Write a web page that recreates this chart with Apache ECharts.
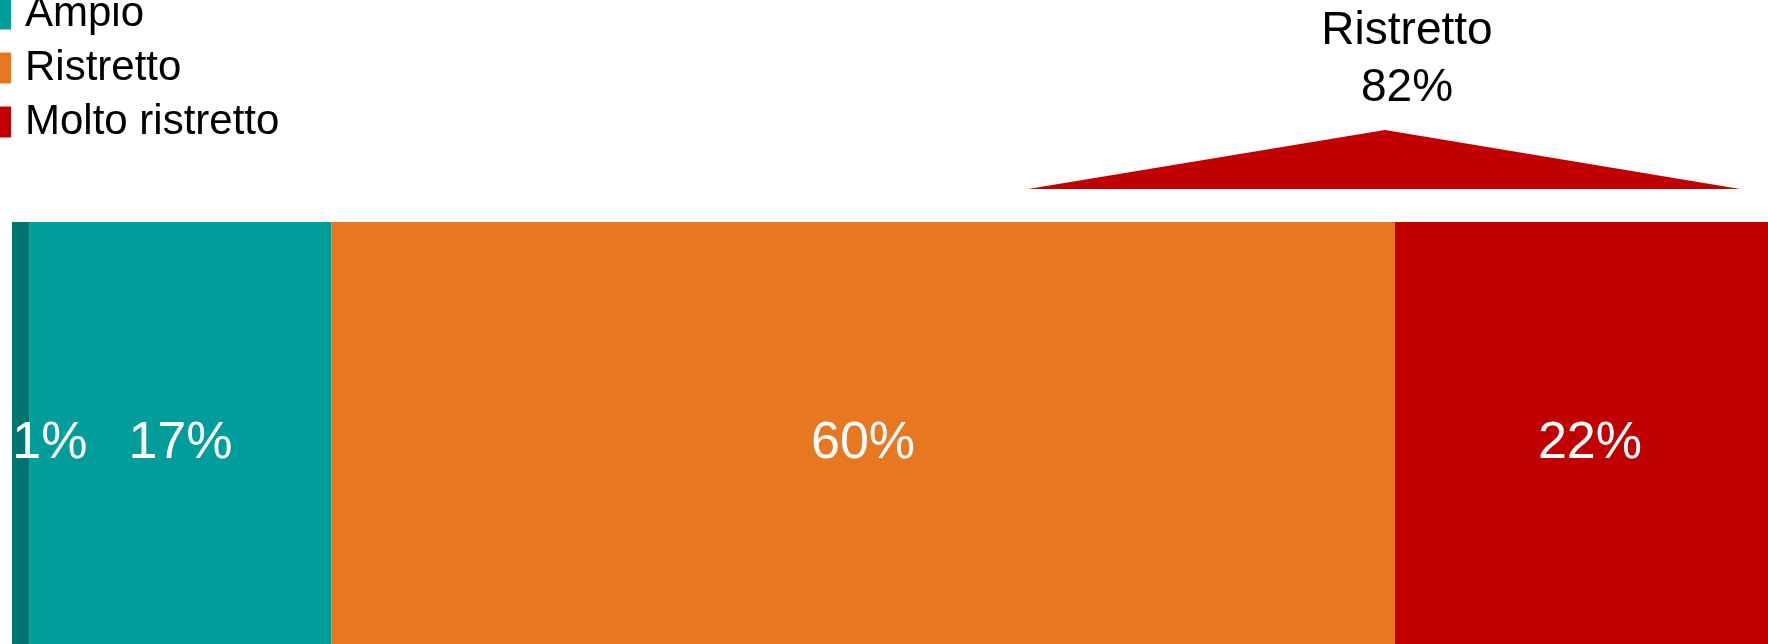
<!DOCTYPE html>
<html>
<head>
<meta charset="utf-8">
<script src="https://cdn.jsdelivr.net/npm/echarts@6/dist/echarts.min.js"></script>
<style>html,body{margin:0;padding:0;background:#fff;overflow:hidden;width:1768px;height:644px;}#c{width:1790px;height:670px;}</style>
</head>
<body>
<div id="c"></div>
<script>
const categories = ['Totale'];
const seriesNames = ['Molto ampio', 'Ampio', 'Ristretto', 'Molto ristretto'];
const moltoAmpio = [1];
const ampio = [17];
const ristretto = [60];
const moltoRistretto = [22];
const annotationLabel = 'Ristretto';

const colors = ['#00746F', '#009D9A', '#E87722', '#C00000'];
const FONT = '"Liberation Sans", Arial, sans-serif';
const values = [moltoAmpio, ampio, ristretto, moltoRistretto];
const ristrettoTotal = ristretto[0] + moltoRistretto[0];

const chart = echarts.init(document.getElementById('c'), null, {renderer: 'canvas'});
const series = seriesNames.map((name, i) => ({
  name: name,
  type: 'bar',
  stack: 'total',
  data: values[i],
  barWidth: '100%',
  itemStyle: {color: colors[i]},
  label: {
    show: true,
    position: 'inside',
    offset: i === 0 ? [29, 0] : [0, 0],
    formatter: '{c}%',
    color: '#ffffff',
    fontSize: 52,
    fontFamily: FONT
  }
}));

chart.setOption({
  animation: false,
  backgroundColor: '#ffffff',
  grid: {left: 12, top: 222, width: 1773, height: 444, containLabel: false},
  xAxis: {type: 'value', min: 0, max: 100, show: false},
  yAxis: {type: 'category', data: categories, show: false, boundaryGap: true},
  legend: {
    orient: 'vertical',
    left: -14,
    top: -61,
    padding: 0,
    icon: 'rect',
    itemWidth: 25,
    itemHeight: 31,
    itemGap: 12,
    data: seriesNames,
    textStyle: {color: '#000', fontSize: 42, fontFamily: FONT, padding: [0, 0, 0, 9]}
  },
  graphic: [
    {
      type: 'polygon',
      shape: {points: [[1028, 189], [1385, 130], [1740, 189]]},
      style: {fill: '#C00000'}
    },
    {
      type: 'text',
      x: 1407,
      y: 3,
      style: {
        text: annotationLabel + '\n' + ristrettoTotal + '%',
        align: 'center',
        verticalAlign: 'top',
        fontSize: 46,
        lineHeight: 57,
        fontFamily: FONT,
        fill: '#000'
      }
    }
  ],
  series: series
});
</script>
</body>
</html>
